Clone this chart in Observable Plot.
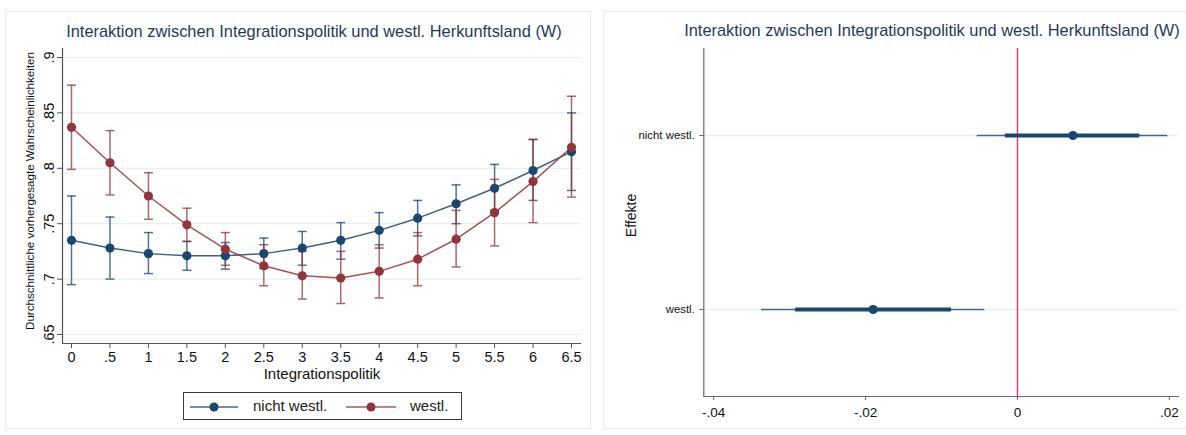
<!DOCTYPE html>
<html>
<head>
<meta charset="utf-8">
<script src="https://cdn.jsdelivr.net/npm/d3@7"></script>
<script src="https://cdn.jsdelivr.net/npm/@observablehq/plot@0.6"></script>
<style>
  html, body { margin: 0; padding: 0; background: #fff; }
  body { width: 1186px; height: 435px; position: relative; overflow: hidden; font-family: "Liberation Sans", Arial, sans-serif; }
  .panel { position: absolute; border: 1px solid #e3edf0; box-sizing: border-box; }
  .title { position: absolute; font-size: 16.4px; color: #1f3a5c; white-space: nowrap; transform: translateX(-50%); }
  .abs { position: absolute; }
  .legend { position: absolute; left: 183px; top: 392px; width: 279px; height: 28px; border: 1px solid #3a3a3a; box-sizing: border-box; background: #fff; }
  .legend span { position: absolute; top: 4px; font-size: 15px; color: #222; }
  .legend svg { position: absolute; top: 0; left: 0; }
</style>
</head>
<body>
<div class="panel" style="left:5px; top:11px; width:586px; height:418px;"></div>
<div class="panel" style="left:603px; top:11px; width:600px; height:418px;"></div>
<div id="left" class="abs" style="left:0; top:0;"></div>
<div id="right" class="abs" style="left:595px; top:0;"></div>
<div class="title" style="left:314px; top:22px;">Interaktion zwischen Integrationspolitik und westl. Herkunftsland (W)</div>
<div class="title" style="left:932px; top:21px;">Interaktion zwischen Integrationspolitik und westl. Herkunftsland (W)</div>
<div class="legend">
  <svg width="279" height="28">
    <line x1="6" x2="54" y1="14" y2="14" stroke="#1a476f" stroke-width="1.6" stroke-opacity="0.8"/>
    <circle cx="30" cy="14" r="4.5" fill="#1a476f"/>
    <line x1="162" x2="212" y1="14" y2="14" stroke="#90353b" stroke-width="1.6" stroke-opacity="0.8"/>
    <circle cx="187" cy="14" r="4.5" fill="#90353b"/>
  </svg>
  <span style="left:69px;">nicht westl.</span>
  <span style="left:226px;">westl.</span>
</div>
<script>
// ---------- Data: left panel ----------
const integrationspolitik = [0, 0.5, 1, 1.5, 2, 2.5, 3, 3.5, 4, 4.5, 5, 5.5, 6, 6.5];
const nichtWestlMean = [0.735, 0.728, 0.723, 0.721, 0.721, 0.723, 0.728, 0.735, 0.744, 0.755, 0.768, 0.782, 0.798, 0.815];
const nichtWestlLo   = [0.695, 0.700, 0.705, 0.708, 0.709, 0.7095, 0.7125, 0.718, 0.728, 0.739, 0.750, 0.762, 0.771, 0.780];
const nichtWestlHi   = [0.775, 0.756, 0.742, 0.734, 0.733, 0.737, 0.743, 0.751, 0.760, 0.771, 0.785, 0.8035, 0.826, 0.850];
const westlMean = [0.837, 0.805, 0.775, 0.749, 0.727, 0.712, 0.703, 0.701, 0.707, 0.718, 0.736, 0.760, 0.788, 0.819];
const westlLo   = [0.799, 0.776, 0.754, 0.734, 0.7125, 0.694, 0.682, 0.678, 0.683, 0.694, 0.711, 0.730, 0.751, 0.774];
const westlHi   = [0.875, 0.834, 0.796, 0.764, 0.742, 0.731, 0.725, 0.725, 0.731, 0.742, 0.762, 0.790, 0.826, 0.865];
const yTicksLeft = [0.65, 0.7, 0.75, 0.8, 0.85, 0.9];

// ---------- Data: right panel ----------
const effektKategorien = ["nicht westl.", "westl."];
const effektSchaetzer = [0.0073, -0.0190];
const effektLo95 = [-0.0053, -0.0337];
const effektHi95 = [0.0198, -0.0043];
const effektLo90 = [-0.0016, -0.0292];
const effektHi90 = [0.0161, -0.0087];
const xTicksRight = [-0.04, -0.02, 0, 0.02];

const BLUE = "#1a476f", RED = "#90353b";
const fmt = d => String(d).replace(/^(-?)0\./, "$1.");

const series = [
  {name: "nicht westl.", color: BLUE, mean: nichtWestlMean, lo: nichtWestlLo, hi: nichtWestlHi},
  {name: "westl.", color: RED, mean: westlMean, lo: westlLo, hi: westlHi}
];
const rows = s => integrationspolitik.map((x, i) => ({x, mean: s.mean[i], lo: s.lo[i], hi: s.hi[i]}));

const capSymbol = {
  draw(ctx, size) { const w = Math.sqrt(size / Math.PI); ctx.moveTo(-w, 0); ctx.lineTo(w, 0); }
};

const xDomL = [-0.117, 6.63], yDomL = [0.6419, 0.9081];
const marksL = [
  Plot.gridY(yTicksLeft, {stroke: "#e6eff2", strokeOpacity: 1, strokeWidth: 1.2}),
];
for (const s of series) {
  const d = rows(s);
  marksL.push(
    Plot.ruleX(d, {x: "x", y1: "lo", y2: "hi", stroke: s.color, strokeOpacity: 0.75, strokeWidth: 1.5}),
    Plot.dot(d, {x: "x", y: "lo", symbol: capSymbol, r: 4.5, stroke: s.color, strokeOpacity: 0.75, fill: "none", strokeWidth: 1.5}),
    Plot.dot(d, {x: "x", y: "hi", symbol: capSymbol, r: 4.5, stroke: s.color, strokeOpacity: 0.75, fill: "none", strokeWidth: 1.5})
  );
}
for (const s of series) {
  const d = rows(s);
  marksL.push(
    Plot.line(d, {x: "x", y: "mean", stroke: s.color, strokeWidth: 1.5, strokeOpacity: 0.85}),
    Plot.dot(d, {x: "x", y: "mean", r: 4.6, fill: s.color, stroke: "none"})
  );
}
marksL.push(
  Plot.ruleX([xDomL[0]], {stroke: "#555", strokeWidth: 1.2}),
  Plot.ruleY([yDomL[0]], {stroke: "#555", strokeWidth: 1.2}),
  Plot.axisX({ticks: integrationspolitik, tickFormat: fmt, tickSize: 5, tickPadding: 3, fontSize: 14.5, label: null, stroke: "#555"}),
  Plot.axisY({ticks: yTicksLeft, tickFormat: fmt, tickSize: 5, tickPadding: 4, tickRotate: -90, fontSize: 14.5, label: null, stroke: "#555"}),
  Plot.text(["Integrationspolitik"], {frameAnchor: "bottom", dy: 35, text: d => d, fontSize: 15, fill: "#111"}),
  Plot.text(["Durchschnittliche vorhergesagte Wahrscheinlichkeiten"], {frameAnchor: "left", textAnchor: "middle", dx: -32, dy: -5, rotate: -90, text: d => d, fontSize: 11.6, fill: "#111"})
);

const left = Plot.plot({
  width: 595, height: 435,
  marginLeft: 62, marginRight: 14, marginTop: 48, marginBottom: 92,
  x: {domain: xDomL},
  y: {domain: yDomL},
  style: {fontFamily: "Liberation Sans, Arial, sans-serif", color: "#111", background: "transparent", overflow: "visible"},
  marks: marksL
});
document.getElementById("left").append(left);

// ---------- Right panel ----------
const eff = effektKategorien.map((k, i) => ({k, est: effektSchaetzer[i], lo95: effektLo95[i], hi95: effektHi95[i], lo90: effektLo90[i], hi90: effektHi90[i]}));
const xDomR = [-0.0413, 0.0212];
const right = Plot.plot({
  width: 591, height: 435,
  marginLeft: 108.3, marginRight: 8, marginTop: 48, marginBottom: 39,
  x: {domain: xDomR},
  y: {type: "point", domain: effektKategorien, padding: 0.5},
  style: {fontFamily: "Liberation Sans, Arial, sans-serif", color: "#111", background: "transparent", overflow: "visible"},
  marks: [
    Plot.gridY(effektKategorien, {stroke: "#e6eff2", strokeOpacity: 1, strokeWidth: 1.5}),
    Plot.ruleX([0], {stroke: "#d9466b", strokeWidth: 1.5}),
    Plot.ruleY(eff, {y: "k", x1: "lo95", x2: "hi95", stroke: "#41678b", strokeWidth: 1.5}),
    Plot.ruleY(eff, {y: "k", x1: "lo90", x2: "hi90", stroke: BLUE, strokeWidth: 4}),
    Plot.dot(eff, {x: "est", y: "k", r: 4.6, fill: BLUE, stroke: "none"}),
    Plot.ruleX([xDomR[0]], {stroke: "#666", strokeWidth: 1.2}),
    Plot.frame({anchor: "bottom", stroke: "#666", strokeWidth: 1.2}),
    Plot.axisX({ticks: xTicksRight, tickFormat: fmt, tickSize: 4, tickPadding: 7, fontSize: 13.5, label: null, stroke: "#666"}),
    Plot.axisY({tickSize: 4, tickPadding: 5, fontSize: 11.4, label: null, stroke: "#666"}),
    Plot.text(["Effekte"], {frameAnchor: "left", textAnchor: "middle", dx: -72, dy: -7, rotate: -90, text: d => d, fontSize: 14, fill: "#111"})
  ]
});
document.getElementById("right").append(right);
</script>
</body>
</html>
